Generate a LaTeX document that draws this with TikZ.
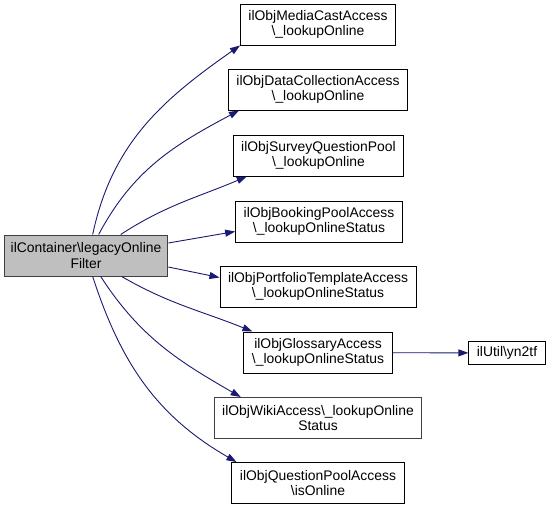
\documentclass[tikz,border=0pt]{standalone}
\usepackage{fontspec}
\setmainfont{Liberation Sans}
\usetikzlibrary{arrows.meta}
\definecolor{midnightblue}{RGB}{25,25,112}
\definecolor{nodeborder}{RGB}{64,64,64}

\begin{document}
\begin{tikzpicture}[x=1pt,y=1pt,font=\fontsize{13.9}{15.5}\selectfont]
    \tikzstyle{func}=[rectangle,draw=black,line width=1pt,align=center,inner xsep=8pt,inner ysep=4pt,minimum height=41pt]
    \tikzstyle{root}=[func,draw=nodeborder,fill=black!25,inner xsep=6.5pt]
    \tikzstyle{call}=[->,draw=midnightblue,line width=0.9pt,>={Triangle[length=10pt,width=7pt]}]

    \useasboundingbox (0,0) rectangle (555,-509);

    \node[root] (legacy) at (86,-255.5) {ilContainer\textbackslash legacyOnline\\Filter};

    \node[func] (mediacast) at (318,-24.5) {ilObjMediaCastAccess\\\textbackslash\_lookupOnline};
    \node[func] (datacoll) at (318,-89.5) {ilObjDataCollectionAccess\\\textbackslash\_lookupOnline};
    \node[func] (survey) at (318.5,-155.5) {ilObjSurveyQuestionPool\\\textbackslash\_lookupOnline};
    \node[func] (booking) at (319,-221.5) {ilObjBookingPoolAccess\\\textbackslash\_lookupOnlineStatus};
    \node[func] (portfolio) at (318,-286.5) {ilObjPortfolioTemplateAccess\\\textbackslash\_lookupOnlineStatus};
    \node[func] (glossary) at (318,-352.5) {ilObjGlossaryAccess\\\textbackslash\_lookupOnlineStatus};
    \node[func,minimum height=23pt] (yn2tf) at (507,-353) {ilUtil\textbackslash yn2tf};
    \node[func,draw=nodeborder] (wiki) at (318,-418) {ilObjWikiAccess\textbackslash\_lookupOnline\\Status};
    \node[func] (qpool) at (318,-483) {ilObjQuestionPoolAccess\\\textbackslash isOnline};

    % calls from the container filter
    \draw[call] ([xshift=89pt]legacy.north west) to[out=78,in=215] (mediacast.south west);
    \draw[call] ([xshift=95pt]legacy.north west) to[out=62,in=208] ([xshift=11pt]datacoll.south west);
    \draw[call] ([xshift=117pt]legacy.north west) to[out=33,in=203] ([xshift=14pt]survey.south west);
    \draw[call] ([yshift=12.5pt]legacy.east) -- ([yshift=-10pt]booking.west);
    \draw[call] ([yshift=-11.5pt]legacy.east) -- ([yshift=9pt]portfolio.west);
    \draw[call] ([xshift=118pt]legacy.south west) to[out=-30,in=158] ([xshift=9pt]glossary.north west);
    \draw[call] ([xshift=97pt]legacy.south west) to[out=-57,in=150] ([xshift=27pt]wiki.north west);
    \draw[call] ([xshift=89pt]legacy.south west) to[out=-72,in=150] ([xshift=5pt]qpool.north west);

    \draw[call] (glossary) -- (yn2tf);
\end{tikzpicture}
\end{document}
